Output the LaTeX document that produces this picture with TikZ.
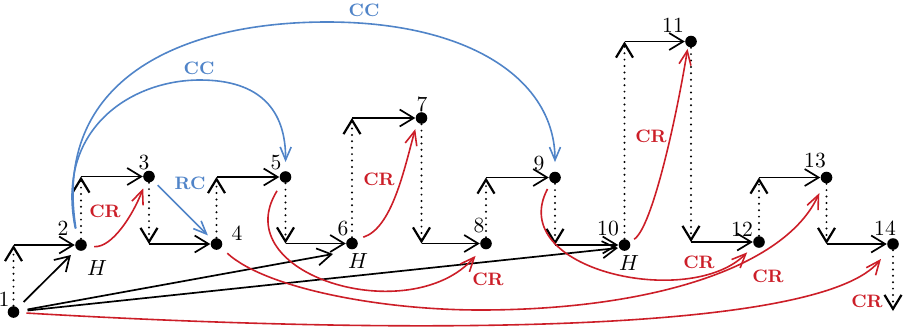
\documentclass[tikz,border=0pt]{standalone}
\usetikzlibrary{arrows.meta,calc}
\definecolor{crred}{RGB}{204,30,40}
\definecolor{ccblue}{RGB}{80,132,200}
\begin{document}
\begin{tikzpicture}[x=0.5pt,y=-0.5pt,
  dot/.style={circle,fill=black,inner sep=0pt,minimum size=5.8pt},
  num/.style={inner sep=0pt,font=\fontsize{10.8}{13}\selectfont},
  lab/.style={inner sep=0pt,font=\small\bfseries},
  flow/.style={line width=0.85pt,-{Straight Barb[length=7pt,width=8.5pt]}},
  vflow/.style={line width=1.1pt,dash pattern=on 0pt off 3.2pt,line cap=round,-{Straight Barb[length=7pt,width=8.5pt]}},
  crarrow/.style={crred,line width=0.8pt,-{Straight Barb[length=7pt,width=6pt]}},
  ccarrow/.style={ccblue,line width=0.8pt,-{Straight Barb[length=6.5pt,width=5.5pt]}},
]
\useasboundingbox (0,0) rectangle (907,328);

% event nodes
\node[dot] (n1)  at (13.5,312) {};
\node[dot] (n2)  at (81,245) {};
\node[dot] (n3)  at (149,176.5) {};
\node[dot] (n4)  at (216.5,244) {};
\node[dot] (n5)  at (285.5,177) {};
\node[dot] (n6)  at (352,243.5) {};
\node[dot] (n7)  at (421.5,118) {};
\node[dot] (n8)  at (486,243.5) {};
\node[dot] (n9)  at (555,177.5) {};
\node[dot] (n10) at (624.5,245) {};
\node[dot] (n11) at (691,41.5) {};
\node[dot] (n12) at (759,242) {};
\node[dot] (n13) at (826.5,177.5) {};
\node[dot] (n14) at (893,244) {};
\coordinate (e14) at (893,311);
\coordinate (t6) at (333,254);
\coordinate (t10) at (618,248);

% number labels
\node[num] (l1)  at (4,299) {1};
\node[num] (l2)  at (63,228) {2};
\node[num] (l3)  at (144,163) {3};
\node[num] (l4)  at (237,233) {4};
\node[num] (l5)  at (276,163) {5};
\node[num] (l6)  at (343,229) {6};
\node[num] (l7)  at (422,104) {7};
\node[num] (l8)  at (479,226) {8};
\node[num] (l9)  at (539,164) {9};
\node[num] (l10) at (608,229) {10};
\node[num] (l11) at (673,25) {11};
\node[num] (l12) at (742,229) {12};
\node[num] (l13) at (815,161) {13};
\node[num] (l14) at (885,228) {14};
\node[num] (h2)  at (97,268) {$H$};
\node[num] (h6)  at (358,261) {$H$};
\node[num] (h10) at (629,263) {$H$};

% staircase: dotted vertical then solid horizontal
\foreach \a/\b in {n1/n2,n2/n3,n3/n4,n4/n5,n5/n6,n6/n7,n7/n8,n8/n9,n9/n10,n10/n11,n11/n12,n12/n13,n13/n14}{
  \draw[vflow] (\a) -- (\a |- \b);
  \draw[flow] (\a |- \b) -- (\b);
}
\draw[vflow] (n14) -- (e14);

% black arrows from 1
\draw[flow,shorten <=4pt,shorten >=4pt] (n1) -- (n2);
\draw[flow,shorten <=4pt] (n1) -- (t6);
\draw[flow,shorten <=4pt] (n1) -- (t10);

% red CR arrows
\draw[crarrow,shorten <=3.5pt,shorten >=3.5pt] (n2.-10) .. controls (112,248) and (133,215) .. (n3.238);
\node[lab,text=crred] (cr23) at (105,211) {CR};
\draw[crarrow,shorten <=3.5pt,shorten >=3.5pt] (n6.42) .. controls (392,228) and (404,170) .. (n7.225);
\node[lab,text=crred] (cr67) at (379,179) {CR};
\draw[crarrow,shorten <=2.5pt,shorten >=1pt] (n10.30) .. controls (652,228) and (676,120) .. (n11.240);
\node[lab,text=crred] (cr1011) at (651,136) {CR};
\draw[crarrow,shorten <=5pt,shorten >=5pt] (n5.239) .. controls (225,275) and (410,330) .. (n8.232);
\node[lab,text=crred] (cr58) at (488,279) {CR};
\draw[crarrow,shorten <=3.8pt,shorten >=4.8pt] (n9.230) .. controls (505,270) and (690,310) .. (n12.215);
\node[lab,text=crred] (cr912) at (699,262) {CR};
\draw[crarrow,shorten <=4pt,shorten >=5.5pt] (n4.-38) .. controls (265,288) and (380,310) .. (480,310) .. controls (650,310) and (785,268) .. (n13.245);
\node[lab,text=crred] (cr413) at (768,276) {CR};
\draw[crarrow,shorten <=3.4pt,shorten >=6.5pt] (n1.-6) .. controls (400,335) and (820,335) .. (n14.231);
\node[lab,text=crred] (cr114) at (867,301) {CR};

% blue arrows
\draw[ccarrow,shorten <=3pt,shorten >=3pt] (n3) -- (n4);
\node[lab,text=ccblue] (rc34) at (190,183) {RC};
\draw[ccarrow,shorten <=5.7pt,shorten >=4.4pt] (n2.122) .. controls (55,130) and (130,80) .. (200,80) .. controls (260,80) and (286,110) .. (n5.90);
\node[lab,text=ccblue] (cc25) at (199,68) {CC};
\draw[ccarrow,shorten <=5.7pt,shorten >=4.6pt] (n2.122) .. controls (52,80) and (180,22) .. (327,22) .. controls (470,22) and (555,80) .. (n9.90);
\node[lab,text=ccblue] (cc29) at (364,10) {CC};
\end{tikzpicture}
\end{document}
